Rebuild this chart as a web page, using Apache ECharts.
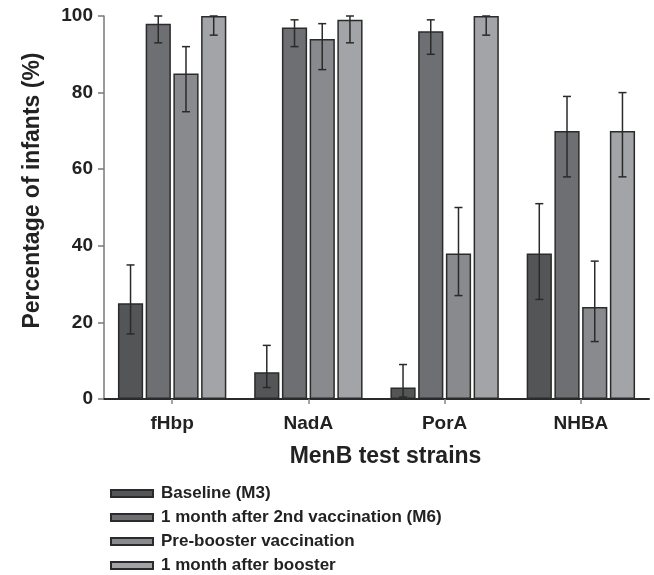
<!DOCTYPE html>
<html>
<head>
<meta charset="utf-8">
<script src="https://cdn.jsdelivr.net/npm/echarts@6/dist/echarts.min.js"></script>
<style>html,body{margin:0;padding:0;background:#fff;}#c{width:654px;height:575px;}</style>
</head>
<body>
<div id="c"></div>
<script>
var categories = ['fHbp', 'NadA', 'PorA', 'NHBA'];
var seriesNames = ['Baseline (M3)', '1 month after 2nd vaccination (M6)', 'Pre-booster vaccination', '1 month after booster'];
var baseline = [25, 7, 3, 38];
var baselineLo = [17, 3, 0.5, 26];
var baselineHi = [35, 14, 9, 51];
var m6 = [98, 97, 96, 70];
var m6Lo = [93, 92, 90, 58];
var m6Hi = [100, 99, 99, 79];
var preBooster = [85, 94, 38, 24];
var preBoosterLo = [75, 86, 27, 15];
var preBoosterHi = [92, 98, 50, 36];
var afterBooster = [100, 99, 100, 70];
var afterBoosterLo = [95, 93, 95, 58];
var afterBoosterHi = [100, 100, 100, 80];
var yTicks = [0, 20, 40, 60, 80, 100];

var values = [baseline, m6, preBooster, afterBooster];
var los = [baselineLo, m6Lo, preBoosterLo, afterBoosterLo];
var his = [baselineHi, m6Hi, preBoosterHi, afterBoosterHi];
var colors = ['#545557', '#6e6f73', '#898a8e', '#a3a4a8'];
var BAR_FRAC = 0.185, GAP_FRAC = 0.10;
var font = 'Liberation Sans, Arial, Helvetica, sans-serif';

var series = [];
values.forEach(function (vals, i) {
  series.push({
    name: seriesNames[i],
    type: 'bar',
    data: vals,
    barWidth: (BAR_FRAC * 100) + '%',
    barGap: (GAP_FRAC * 100) + '%',
    itemStyle: { color: colors[i], borderColor: '#2b2b2b', borderWidth: 1.5 },
    emphasis: { disabled: true },
    z: 2
  });
});
values.forEach(function (vals, i) {
  var data = categories.map(function (c, k) { return [k, los[i][k], his[i][k]]; });
  series.push({
    type: 'custom',
    name: 'err' + i,
    z: 5,
    silent: true,
    data: data,
    renderItem: function (params, api) {
      var k = api.value(0);
      var pLo = api.coord([k, api.value(1)]);
      var pHi = api.coord([k, api.value(2)]);
      var band = api.size([1, 0])[0];
      var bw = band * BAR_FRAC;
      var off = (i - 1.5) * bw * (1 + GAP_FRAC);
      var x = pLo[0] + off;
      var cap = 4;
      var st = { stroke: '#2a2a2a', lineWidth: 1.5 };
      return {
        type: 'group',
        children: [
          { type: 'line', shape: { x1: x, y1: pLo[1], x2: x, y2: pHi[1] }, style: st },
          { type: 'line', shape: { x1: x - cap, y1: pLo[1], x2: x + cap, y2: pLo[1] }, style: st },
          { type: 'line', shape: { x1: x - cap, y1: pHi[1], x2: x + cap, y2: pHi[1] }, style: st }
        ]
      };
    }
  });
});

var chart = echarts.init(document.getElementById('c'), null, { renderer: 'canvas' });
chart.setOption({
  animation: false,
  backgroundColor: '#fff',
  textStyle: { fontFamily: font },
  grid: { left: 104, right: 5, top: 16, bottom: 176, containLabel: false },
  legend: {
    data: seriesNames,
    orient: 'vertical',
    left: 110,
    top: 485,
    padding: 0,
    icon: 'rect',
    itemWidth: 42,
    itemHeight: 7,
    itemGap: 7,
    textStyle: { fontFamily: font, fontWeight: 'bold', fontSize: 17, lineHeight: 17, color: '#222', padding: [0, 0, 0, 3] }
  },
  xAxis: {
    type: 'category',
    data: categories,
    boundaryGap: true,
    name: 'MenB test strains',
    nameLocation: 'middle',
    nameGap: 46,
    nameTextStyle: { fontFamily: font, fontWeight: 'bold', fontSize: 23, color: '#222', padding: [0, 0, 0, 18] },
    axisLine: { show: true, lineStyle: { color: '#2a2a2a', width: 2 } },
    axisTick: { show: true, alignWithLabel: true, length: 5, lineStyle: { color: '#888', width: 1.5 } },
    axisLabel: { fontFamily: font, fontWeight: 'bold', fontSize: 19, color: '#222', margin: 15 },
    splitLine: { show: false }
  },
  yAxis: {
    type: 'value',
    min: yTicks[0],
    max: yTicks[yTicks.length - 1],
    interval: yTicks[1] - yTicks[0],
    name: 'Percentage of infants (%)',
    nameLocation: 'middle',
    nameGap: 60,
    nameRotate: 90,
    nameTextStyle: { fontFamily: font, fontWeight: 'bold', fontSize: 23, color: '#222', padding: [0, 0, 0, 34] },
    axisLine: { show: true, lineStyle: { color: '#7a7a7a', width: 1.5 } },
    axisTick: { show: true, inside: false, length: 6, lineStyle: { color: '#7a7a7a', width: 1.5 } },
    axisLabel: { fontFamily: font, fontWeight: 'bold', fontSize: 19, color: '#222', margin: 11 },
    splitLine: { show: false }
  },
  series: series
});
</script>
</body>
</html>
